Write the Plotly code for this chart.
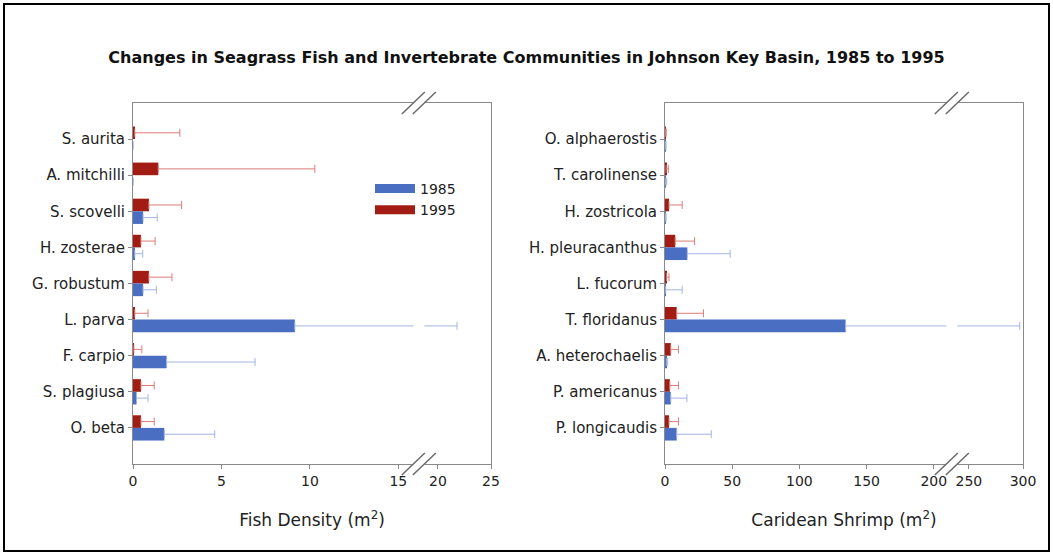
import plotly.graph_objects as go

# ---------------- data ----------------
fish_species = ["S. aurita", "A. mitchilli", "S. scovelli", "H. zosterae", "G. robustum",
                "L. parva", "F. carpio", "S. plagiusa", "O. beta"]
fish_1985 = [0.0, 0.0, 0.57, 0.1, 0.57, 9.15, 1.9, 0.2, 1.77]
fish_1985_err = [0.0, 0.0, 0.8, 0.45, 0.75, 12.65, 5.0, 0.65, 2.85]
fish_1995 = [0.1, 1.43, 0.9, 0.45, 0.9, 0.1, 0.05, 0.45, 0.45]
fish_1995_err = [2.55, 8.85, 1.85, 0.8, 1.3, 0.75, 0.45, 0.75, 0.75]

shrimp_species = ["O. alphaerostis", "T. carolinense", "H. zostricola", "H. pleuracanthus",
                  "L. fucorum", "T. floridanus", "A. heterochaelis", "P. americanus", "P. longicaudis"]
shrimp_1985 = [0.3, 0.5, 0.3, 16.6, 0.5, 134.4, 1.0, 4.3, 8.7]
shrimp_1985_err = [0.5, 0.8, 0.5, 31.9, 12.3, 162.6, 1.0, 12.0, 25.7]
shrimp_1995 = [0.3, 0.8, 3.0, 7.6, 1.2, 8.7, 4.3, 3.6, 3.0]
shrimp_1995_err = [0.6, 1.7, 9.8, 14.4, 1.8, 19.9, 5.7, 6.4, 7.0]

fish_ticks = [0, 5, 10, 15, 20, 25]
shrimp_ticks = [0, 50, 100, 150, 200, 250, 300]

# broken-axis settings: (end of lower segment, start of upper segment, upper scale ratio)
fish_break = (16.16, 18.2, 0.6)
shrimp_break = (213.4, 234.3, 0.806)

W, H = 1053, 555
BLUE, RED = "#4A6FC2", "#A31C14"
BLUE_ERR, RED_ERR = "#A3B5E2", "#DC7C78"
FONT = "DejaVu Sans"
TXT = "#222222"

x_dom_left = [133 / W, 491 / W]
x_dom_right = [665 / W, 1023 / W]
y_dom = [1 - 464 / H, 1 - 103 / H]


def mapper(brk):
    lo, hi, ratio = brk
    def f(v):
        return v if v <= lo else lo + max(v - hi, 0.0) * ratio
    return f


fig = go.Figure()


def add_panel(species, v85, e85, v95, e95, ticks, brk, xa, ya, xdom):
    f = mapper(brk)
    for vals, errs, col, ecol in [(v95, e95, RED, RED_ERR), (v85, e85, BLUE, BLUE_ERR)]:
        mv = [f(v) for v in vals]
        me = [f(v + e) - f(v) for v, e in zip(vals, errs)]
        fig.add_trace(go.Bar(
            y=species, x=mv, orientation="h", marker=dict(color=col, line=dict(width=0)),
            error_x=dict(type="data", symmetric=False, array=me, arrayminus=[0] * len(me),
                         color=ecol, thickness=1, width=4),
            showlegend=False, xaxis=xa, yaxis=ya, hoverinfo="skip"))
    xmax = f(ticks[-1])
    # break decorations
    px_per_unit = (xdom[1] - xdom[0]) * W / xmax
    b = brk[0]
    off = 5.5 / px_per_unit
    d = 11.5 / px_per_unit
    dy = 11 / H
    fig.add_shape(type="rect", xref=xa, yref="paper", x0=b - off, x1=b + off,
                  y0=y_dom[0] - 0.004, y1=y_dom[1] + 0.004,
                  fillcolor="white", line=dict(width=0), layer="above")
    for yb in (y_dom[0], y_dom[1]):
        for s in (-off, off):
            fig.add_shape(type="line", xref=xa, yref="paper",
                          x0=b + s - d, x1=b + s + d, y0=yb - dy, y1=yb + dy,
                          line=dict(color="#6a6a6a", width=1.5), layer="above")
    return [f(t) for t in ticks], xmax


tv_l, xmax_l = add_panel(fish_species, fish_1985, fish_1985_err, fish_1995, fish_1995_err,
                         fish_ticks, fish_break, "x", "y", x_dom_left)
tv_r, xmax_r = add_panel(shrimp_species, shrimp_1985, shrimp_1985_err, shrimp_1995, shrimp_1995_err,
                         shrimp_ticks, shrimp_break, "x2", "y2", x_dom_right)

# legend entries
fig.add_trace(go.Scatter(x=[None], y=[None], mode="lines", name="1985",
                         line=dict(color=BLUE, width=9), xaxis="x", yaxis="y"))
fig.add_trace(go.Scatter(x=[None], y=[None], mode="lines", name="1995",
                         line=dict(color=RED, width=9), xaxis="x", yaxis="y"))

axis_common = dict(showline=True, linecolor="#8a8a8a", linewidth=1, mirror=True,
                   showgrid=False, zeroline=False, ticks="outside", ticklen=4,
                   tickcolor="#8a8a8a", automargin=False)

fig.update_layout(
    width=W, height=H,
    margin=dict(l=0, r=0, t=0, b=0),
    paper_bgcolor="white", plot_bgcolor="white",
    barmode="group", bargap=0.3, bargroupgap=0,
    title=dict(text="<b>Changes in Seagrass Fish and Invertebrate Communities in Johnson Key Basin, 1985 to 1995</b>",
               x=0.5, xanchor="center", y=1 - 57 / H, yanchor="middle",
               font=dict(family=FONT, size=16, color="#111111")),
    xaxis=dict(domain=x_dom_left, range=[0, xmax_l], tickvals=tv_l,
               ticktext=[str(t) for t in fish_ticks],
               tickfont=dict(family=FONT, size=14, color=TXT),
               title=dict(text="Fish Density (m<sup>2</sup>)", standoff=26,
                          font=dict(family=FONT, size=17, color=TXT)),
               anchor="y", **axis_common),
    yaxis=dict(domain=y_dom, type="category", categoryorder="array", categoryarray=fish_species,
               tickfont=dict(family=FONT, size=15, color=TXT),
               range=[9, -1], anchor="x", **axis_common),
    xaxis2=dict(domain=x_dom_right, range=[0, xmax_r], tickvals=tv_r,
                ticktext=[str(t) for t in shrimp_ticks],
                tickfont=dict(family=FONT, size=14, color=TXT),
                title=dict(text="Caridean Shrimp (m<sup>2</sup>)", standoff=26,
                           font=dict(family=FONT, size=17, color=TXT)),
                anchor="y2", **axis_common),
    yaxis2=dict(domain=y_dom, type="category", categoryorder="array", categoryarray=shrimp_species,
                tickfont=dict(family=FONT, size=15, color=TXT),
                range=[9, -1], anchor="x2", **axis_common),
    legend=dict(x=370 / W, y=1 - 173 / H, xanchor="left", yanchor="top",
                bgcolor="rgba(0,0,0,0)", font=dict(family=FONT, size=14, color=TXT),
                traceorder="normal", itemwidth=40, tracegroupgap=0),
    showlegend=True,
)

# outer frame
fig.add_shape(type="rect", xref="paper", yref="paper", x0=4 / W, x1=1 - 4 / W, y0=4 / H, y1=1 - 4 / H,
              line=dict(color="black", width=2), fillcolor="rgba(0,0,0,0)", layer="above")

fig.write_html("out.html", config={"displayModeBar": False},
               post_script="document.body.style.margin='0px';")
